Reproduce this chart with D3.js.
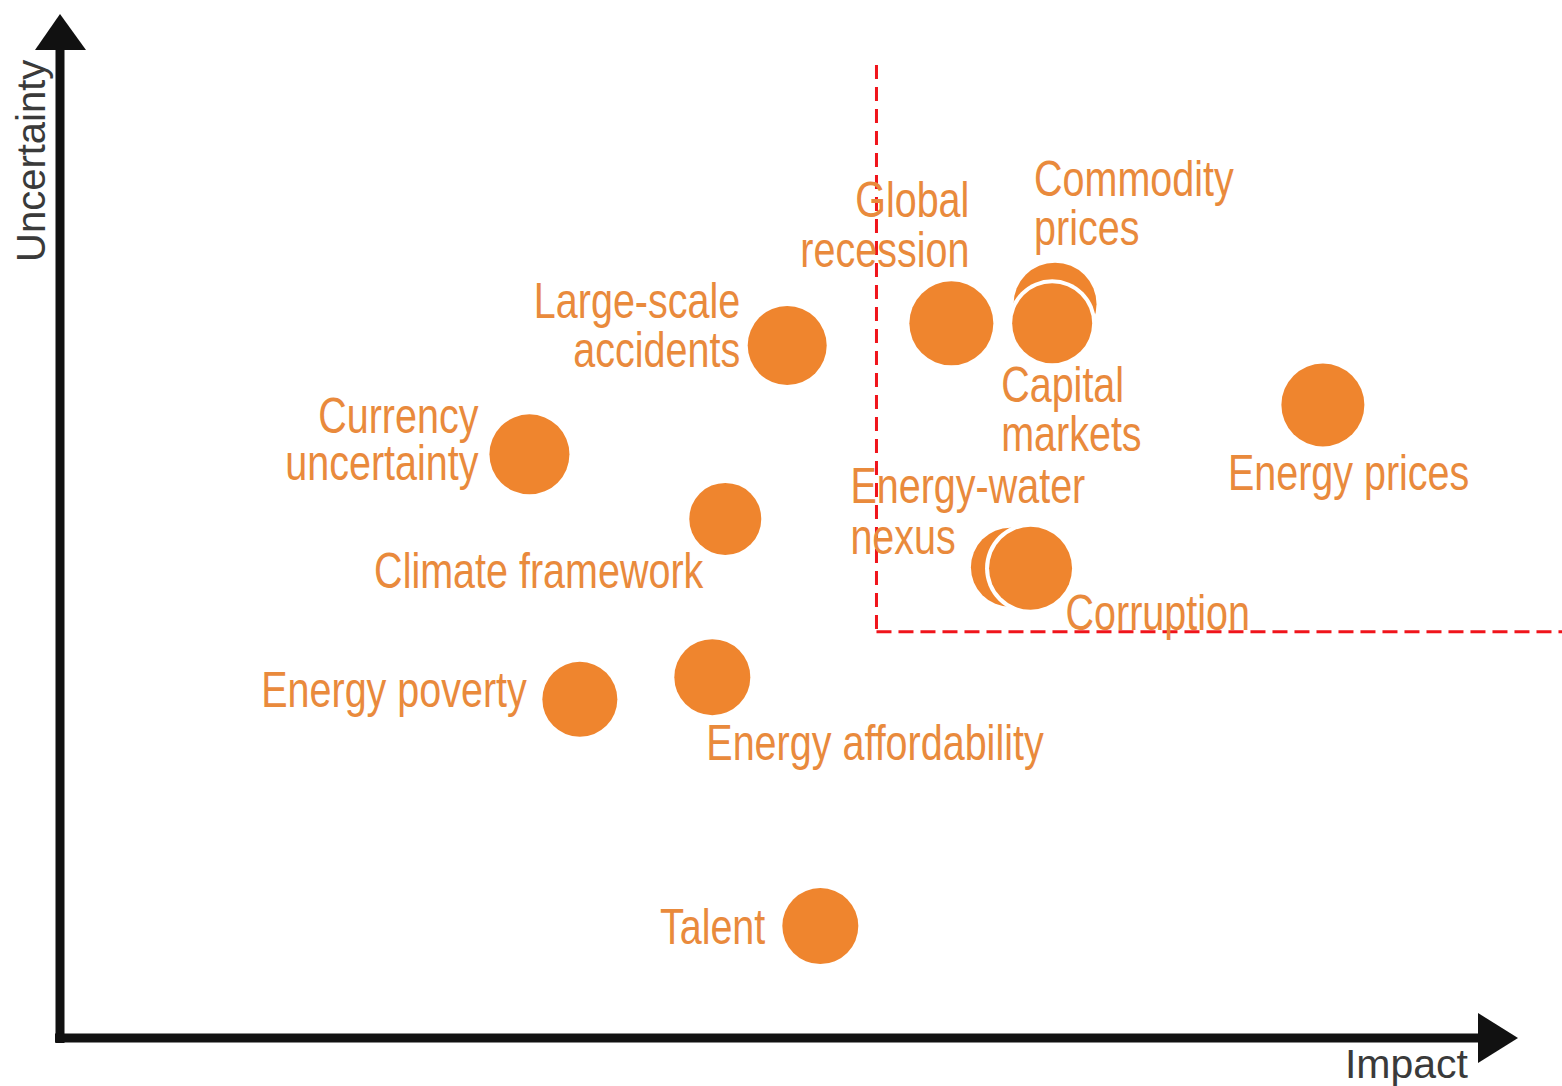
<!DOCTYPE html>
<html>
<head>
<meta charset="utf-8">
<script src="https://cdn.jsdelivr.net/npm/d3@7"></script>
<style>
  html, body { margin: 0; padding: 0; background: #ffffff; }
  svg { display: block; }
</style>
</head>
<body>
<svg id="chart" width="1562" height="1086"></svg>
<script>
// ---------------- data ----------------
const risks = [
  "Large-scale accidents", "Global recession", "Commodity prices", "Capital markets",
  "Currency uncertainty", "Energy prices", "Climate framework", "Energy-water nexus",
  "Corruption", "Energy poverty", "Energy affordability", "Talent"
];
// impact (x) and uncertainty (y), 0-100 scale
const impact      = [50.5, 61.9, 69.1, 68.9, 32.6, 87.7, 46.2, 66.0, 67.4, 36.1, 45.3, 52.8];
const uncertainty = [68.7, 70.9, 72.8, 70.9, 57.9, 62.8, 51.5, 46.7, 46.6, 33.6, 35.8, 11.1];
const bubbleSize  = [39.5, 42, 41.5, 40, 40, 41.5, 36, 39.5, 41.5, 37.5, 38, 38];
// critical quadrant thresholds
const impactThreshold = 56.7;
const uncertaintyThreshold = 40.3;
const axisTitles = ["Impact", "Uncertainty"];

// ---------------- layout (label placement relative to bubble) ----------------
const labelLayout = {
  "Large-scale accidents": { lines: ["Large-scale", "accidents"], dx: -47, dy: -28, anchor: "end", lh: 50 },
  "Global recession":      { lines: ["Global", "recession"], dx: 18, dy: -106, anchor: "end", lh: 50 },
  "Commodity prices":      { lines: ["Commodity", "prices"], dx: -21, dy: -108, anchor: "start", lh: 49 },
  "Capital markets":       { lines: ["Capital", "markets"], dx: -51, dy: 79, anchor: "start", lh: 49 },
  "Currency uncertainty":  { lines: ["Currency", "uncertainty"], dx: -51, dy: -21, anchor: "end", lh: 47 },
  "Energy prices":         { lines: ["Energy prices"], dx: -95, dy: 85, anchor: "start", lh: 50 },
  "Climate framework":     { lines: ["Climate framework"], dx: -22, dy: 69, anchor: "end", lh: 50 },
  "Energy-water nexus":    { lines: ["Energy-water", "nexus"], dx: -160, dy: -64, anchor: "start", lh: 51 },
  "Corruption":            { lines: ["Corruption"], dx: 35, dy: 62, anchor: "start", lh: 50 },
  "Energy poverty":        { lines: ["Energy poverty"], dx: -53, dy: 8, anchor: "end", lh: 50 },
  "Energy affordability":  { lines: ["Energy affordability"], dx: -6, dy: 83, anchor: "start", lh: 50 },
  "Talent":                { lines: ["Talent"], dx: -55, dy: 18, anchor: "end", lh: 50 }
};

// ---------------- drawing ----------------
const svg = d3.select("#chart");
const W = 1562, H = 1086;

const x = d3.scaleLinear().domain([0, 100]).range([60, 1500]);
const y = d3.scaleLinear().domain([0, 100]).range([1038, 30]);

const ORANGE = "#EF852E";
const TEXT_ORANGE = "#E98A3C";
const LABEL_FONT = "'Liberation Sans', Arial, Helvetica, sans-serif";
const CONDENSE = 0.79;

// dashed critical-zone lines
const gQuad = svg.append("g");
gQuad.append("line")
  .attr("x1", x(impactThreshold)).attr("x2", x(impactThreshold))
  .attr("y1", 65).attr("y2", y(uncertaintyThreshold))
  .attr("stroke", "#F0141B").attr("stroke-width", 3)
  .attr("stroke-dasharray", "14,8");
gQuad.append("line")
  .attr("x1", x(impactThreshold)).attr("x2", W)
  .attr("y1", y(uncertaintyThreshold)).attr("y2", y(uncertaintyThreshold))
  .attr("stroke", "#F0141B").attr("stroke-width", 3)
  .attr("stroke-dasharray", "15,7");

// axes with arrowheads
const gAxis = svg.append("g");
const x0 = x(0), y0 = y(0);
gAxis.append("line")
  .attr("x1", x0).attr("x2", x0)
  .attr("y1", y0 + 5).attr("y2", 48)
  .attr("stroke", "#111").attr("stroke-width", 9);
gAxis.append("line")
  .attr("x1", x0 - 5).attr("x2", 1482)
  .attr("y1", y0).attr("y2", y0)
  .attr("stroke", "#111").attr("stroke-width", 9);
gAxis.append("path")
  .attr("d", d3.line()([[x0 - 25, 50], [x0, 14], [x0 + 26, 50]]) + "Z")
  .attr("fill", "#111");
gAxis.append("path")
  .attr("d", d3.line()([[1478, y0 - 25], [1518, y0], [1478, y0 + 25]]) + "Z")
  .attr("fill", "#111");

gAxis.append("text")
  .attr("x", 1468).attr("y", 1078)
  .attr("text-anchor", "end")
  .attr("font-family", "'Liberation Sans', Arial, sans-serif")
  .attr("font-size", 41)
  .attr("fill", "#3a3a3a")
  .text(axisTitles[0]);
gAxis.append("text")
  .attr("transform", "translate(45,262) rotate(-90)")
  .attr("text-anchor", "start")
  .attr("font-family", "'Liberation Sans', Arial, sans-serif")
  .attr("font-size", 40)
  .attr("fill", "#3a3a3a")
  .text(axisTitles[1]);

// data table
const data = risks.map((name, i) => ({
  name, impact: impact[i], uncertainty: uncertainty[i], size: bubbleSize[i]
}));

// bubbles (white halo gives the gap where bubbles overlap)
const gB = svg.append("g");
data.forEach(d => {
  gB.append("circle")
    .attr("cx", x(d.impact)).attr("cy", y(d.uncertainty))
    .attr("r", d.size + 4)
    .attr("fill", "#ffffff");
  gB.append("circle")
    .attr("cx", x(d.impact)).attr("cy", y(d.uncertainty))
    .attr("r", d.size)
    .attr("fill", ORANGE);
});

// labels (horizontally condensed to mimic a condensed typeface)
const gL = svg.append("g");
data.forEach(d => {
  const L = labelLayout[d.name];
  const t = gL.append("text")
    .attr("transform", `translate(${x(d.impact) + L.dx},${y(d.uncertainty) + L.dy}) scale(${CONDENSE},1)`)
    .attr("text-anchor", L.anchor)
    .attr("font-family", LABEL_FONT)
    .attr("font-size", 50)
    .attr("fill", TEXT_ORANGE);
  L.lines.forEach((line, j) => {
    t.append("tspan")
      .attr("x", 0)
      .attr("dy", j === 0 ? 0 : L.lh)
      .text(line);
  });
});
</script>
</body>
</html>
